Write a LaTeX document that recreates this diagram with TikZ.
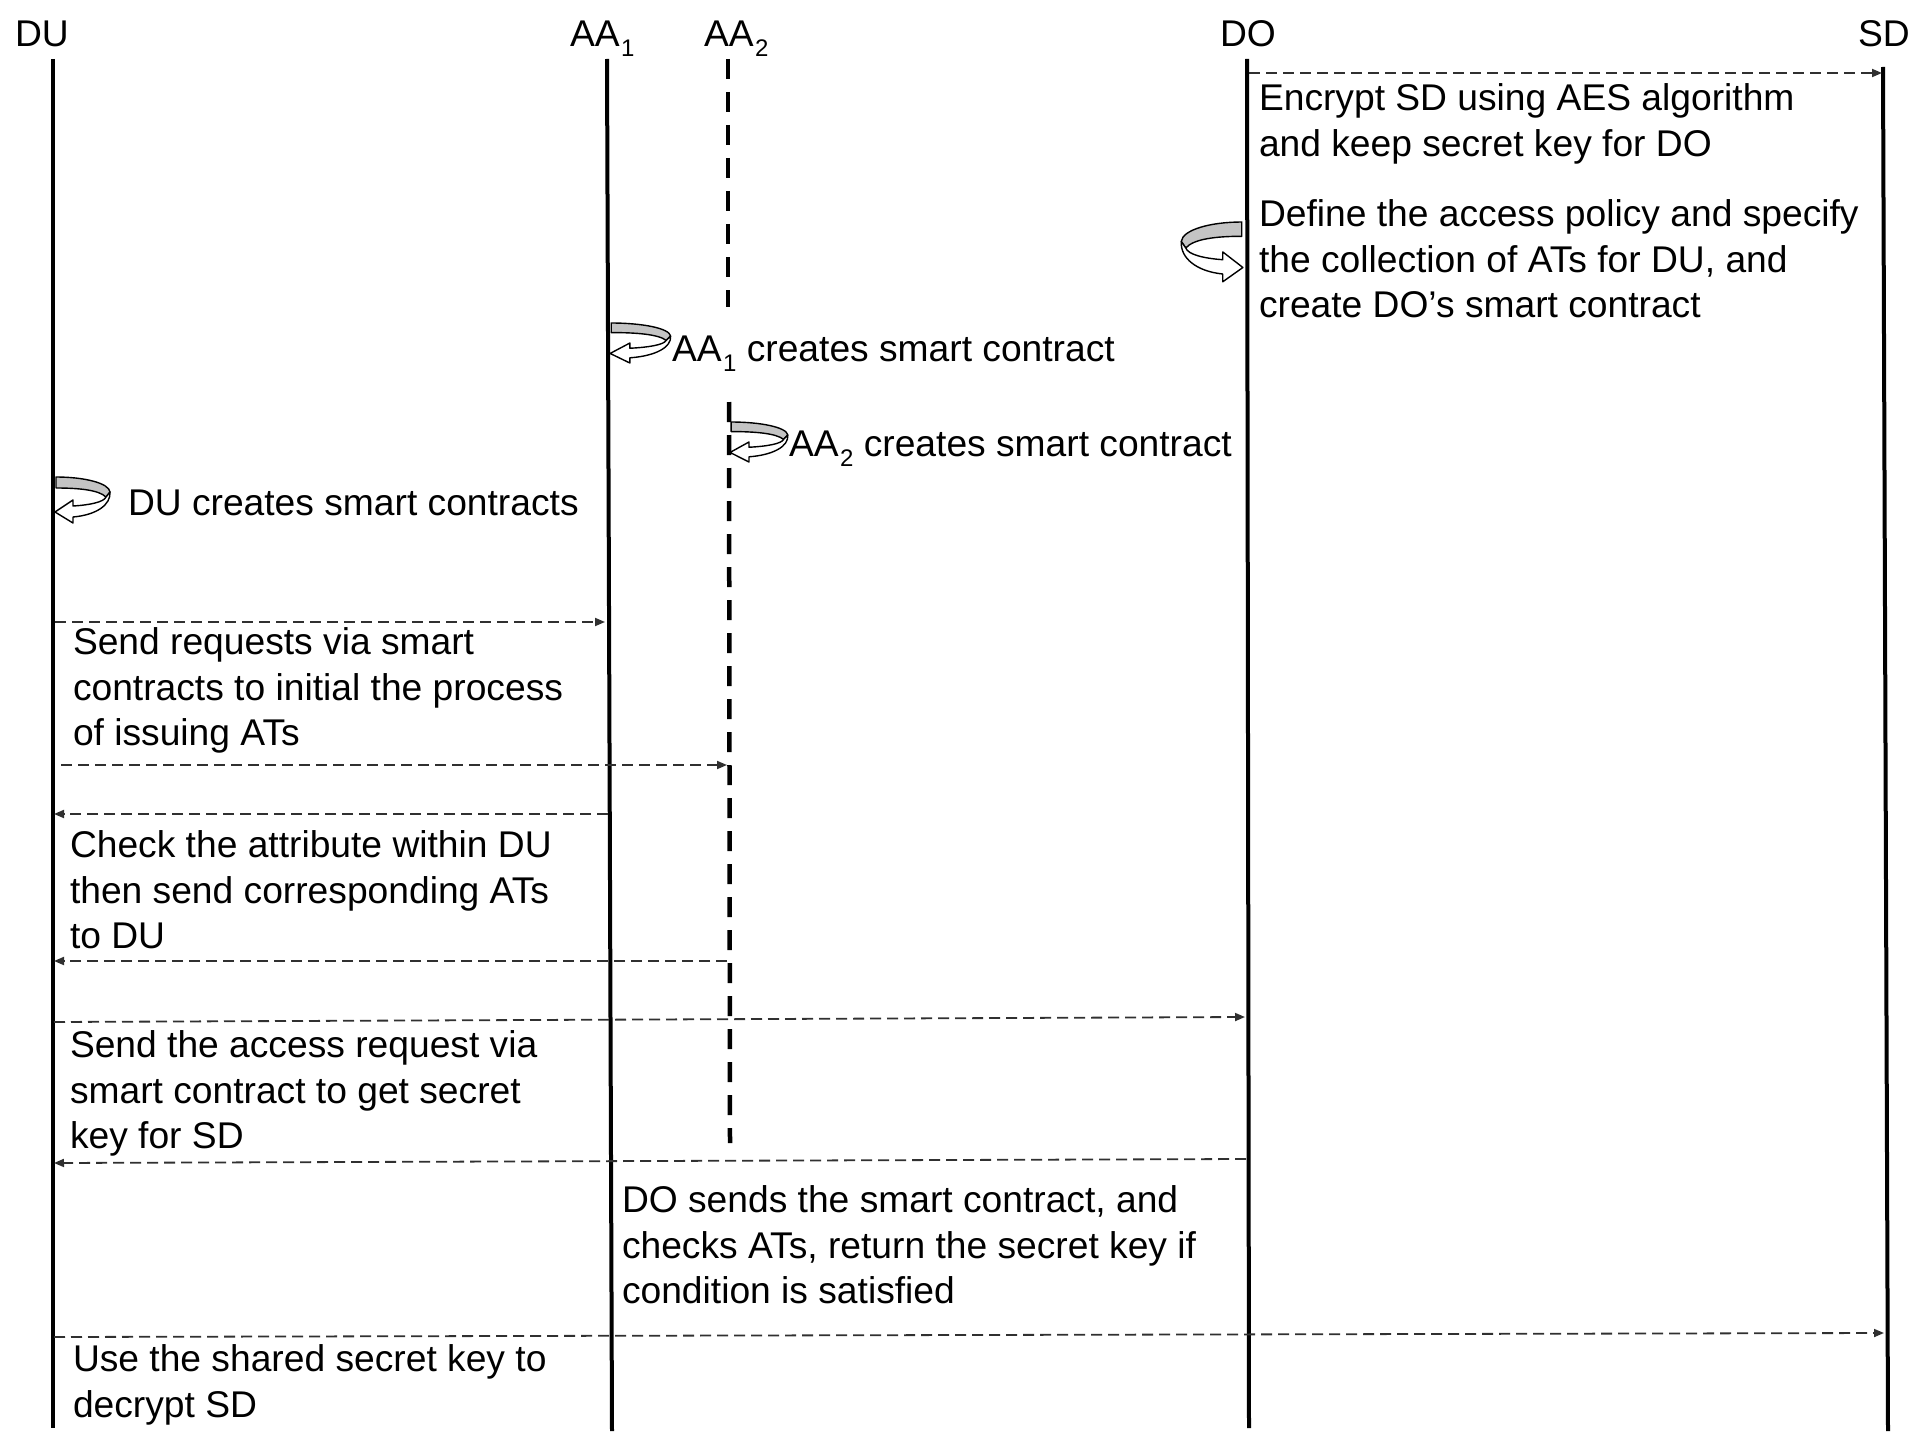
\documentclass[tikz,border=0pt]{standalone}
\usepackage{fontspec}
\setmainfont{Liberation Sans}
\usetikzlibrary{arrows.meta}
\definecolor{loopgray}{HTML}{C4C4C4}
\definecolor{msggray}{HTML}{303030}
\newcommand\mysubs[1]{\kern1.5pt\raisebox{-10pt}{\fontsize{24}{24}\selectfont #1}}
\begin{document}
\begin{tikzpicture}[x=1pt,y=-1pt,
  every node/.style={inner sep=0pt, outer sep=0pt, font=\fontsize{37.2}{45.2}\selectfont},
  head/.style={anchor=base west},
  lbl/.style={anchor=north west, align=left},
  lifeline/.style={line width=4pt, black},
  dlifeline/.style={line width=4.5pt, black, dash pattern=on 20pt off 13pt},
  msg/.style={line width=1.8pt, msggray, dash pattern=on 11pt off 6pt, -{Triangle[length=10pt,width=8pt]}},
  selfloop/.pic={
    \filldraw[fill=loopgray, draw=black, line width=1.4pt, line join=round]
      (2,0) .. controls (30,0) and (55,6) .. (56,15) -- (52,20)
      .. controls (45,13) and (25,11) .. (2,11) -- cycle;
    \filldraw[fill=white, draw=black, line width=1.4pt, line join=round]
      (56,15) .. controls (57,28) and (42,38) .. (19,40) -- (19,46) -- (1,35)
      -- (19,23) -- (19,29) .. controls (36,28) and (50,25) .. (52,20) -- cycle;
  }]
\useasboundingbox[fill=white] (0,0) rectangle (1917,1434);

% headers
\node[head] (hDU) at (15,47) {DU};
\node[head] (hAA1) at (570,47) {AA\mysubs{1}};
\node[head] (hAA2) at (704,47) {AA\mysubs{2}};
\node[head] (hDO) at (1220,47) {DO};
\node[head] (hSD) at (1858,47) {SD};

% lifelines
\coordinate (DUt) at (53,59);   \coordinate (DUb) at (53,1428);
\coordinate (A1t) at (607,59);  \coordinate (A1b) at (612,1431);
\coordinate (A2t) at (728,59);  \coordinate (A2m) at (728,307);
\coordinate (A2n) at (729,402); \coordinate (A2b) at (730,1143);
\coordinate (DOt) at (1247,59); \coordinate (DOb) at (1249,1428);
\coordinate (SDt) at (1883,67); \coordinate (SDb) at (1888,1431);
\draw[lifeline] (DUt) -- (DUb);
\draw[lifeline] (A1t) -- (A1b);
\draw[dlifeline] (A2t) -- (A2m);
\draw[dlifeline] (A2n) -- (A2b);
\draw[lifeline] (DOt) -- (DOb);
\draw[lifeline] (SDt) -- (SDb);

% self loops
\pic[xscale=-1.12, yscale=1.3] (loopDO) at (1244,222) {selfloop};
\pic[xscale=1.1, yscale=0.87] (loopA1) at (609,323) {selfloop};
\pic[xscale=1.05, yscale=0.87] (loopA2) at (729,422) {selfloop};
\pic (loopDU) at (54,477) {selfloop};

% message endpoints
\coordinate (m1a) at (1249,73);  \coordinate (m1b) at (1882,73);
\coordinate (m2a) at (55,622);   \coordinate (m2b) at (605,622);
\coordinate (m3a) at (61,765);   \coordinate (m3b) at (727,765);
\coordinate (m4a) at (608,814);  \coordinate (m4b) at (54,814);
\coordinate (m5a) at (727,961);  \coordinate (m5b) at (54,961);
\coordinate (m6a) at (54,1022);  \coordinate (m6b) at (1245,1017);
\coordinate (m7a) at (1246,1159); \coordinate (m7b) at (54,1163);
\coordinate (m8a) at (54,1337);  \coordinate (m8b) at (1884,1333);

\draw[msg] (m1a) -- (m1b);
\draw[msg] (m2a) -- (m2b);
\draw[msg] (m3a) -- (m3b);
\draw[msg] (m4a) -- (m4b);
\draw[msg] (m5a) -- (m5b);
\draw[msg] (m6a) -- (m6b);
\draw[msg] (m7a) -- (m7b);
\draw[msg] (m8a) -- (m8b);

% labels
\node[lbl] (t1) at (1259,84) {Encrypt SD using AES algorithm\\and keep secret key for DO};
\node[lbl] (t2) at (1259,200) {Define the access policy and specify\\the collection of ATs for DU, and\\create DO’s smart contract};
\node[head] (t3) at (672,361) {AA\mysubs{1} creates smart contract};
\node[head] (t4) at (789,456) {AA\mysubs{2} creates smart contract};
\node[head] (t5) at (128,515) {DU creates smart contracts};
\node[lbl] (t6) at (73,628) {Send requests via smart\\contracts to initial the process\\of issuing ATs};
\node[lbl] (t7) at (70,831) {Check the attribute within DU\\then send corresponding ATs\\to DU};
\node[lbl] (t8) at (70,1031) {Send the access request via\\smart contract to get secret\\key for SD};
\node[lbl] (t9) at (622,1186) {DO sends the smart contract, and\\checks ATs, return the secret key if\\condition is satisfied};
\node[lbl] (t10) at (73,1345) {Use the shared secret key to\\decrypt SD};
\end{tikzpicture}
\end{document}
